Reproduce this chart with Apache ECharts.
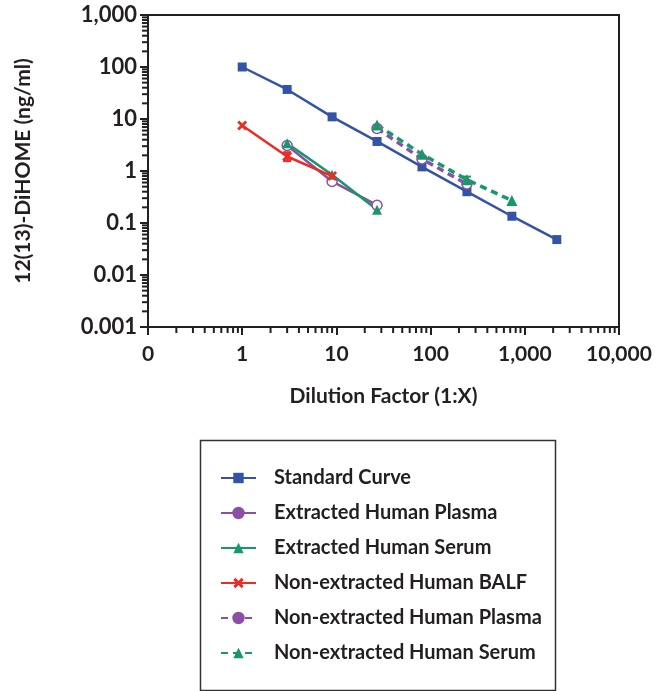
<!DOCTYPE html>
<html>
<head>
<meta charset="utf-8">
<script src="https://cdn.jsdelivr.net/npm/echarts@6/dist/echarts.min.js"></script>
<style>html,body{margin:0;padding:0;background:#fff}#c{width:655px;height:691px}</style>
</head>
<body>
<div id="c"></div>
<script>
// ---- data ----
const stdX = [1, 3, 9, 27, 81, 243, 729, 2187];
const stdY = [100, 37, 11, 3.7, 1.2, 0.4, 0.135, 0.048];
const exPlasmaX = [3, 9, 27];
const exPlasmaY = [3.1, 0.63, 0.22];
const exSerumX = [3, 9, 27];
const exSerumY = [3.4, 0.85, 0.18];
const balfX = [1, 3, 9];
const balfY = [7.5, 1.9, 0.8];
const nePlasmaX = [27, 81, 243];
const nePlasmaY = [6.6, 1.7, 0.56];
const neSerumX = [27, 81, 243, 729];
const neSerumY = [7.7, 2.1, 0.68, 0.27];
// error bars: x, low, high
const balfErrX = [3], balfErrLo = [1.55], balfErrHi = [2.3];
const neSerumErrX = [243], neSerumErrLo = [0.6], neSerumErrHi = [0.78];
const seriesNames = ['Standard Curve', 'Extracted Human Plasma', 'Extracted Human Serum',
  'Non-extracted Human BALF', 'Non-extracted Human Plasma', 'Non-extracted Human Serum'];
const xTickLabels = ['0', '1', '10', '100', '1,000', '10,000'];   // decades 0.1 .. 10000
const yTickLabels = ['0.001', '0.01', '0.1', '1', '10', '100', '1,000']; // decades 0.001 .. 1000

const BLUE = '#3353a6', PURPLE = '#8c4fa6', GREEN = '#17986b', RED = '#ee2a25', INK = '#231f20';
const FONT = 'Lato';
const X_MIN = 0.1, X_MAX = 10000, Y_MIN = 0.001, Y_MAX = 1000;
// minor tick values (2..9 within each decade)
const xMinor = [], yMinor = [];
for (let e = -1; e < 4; e++) for (let k = 2; k <= 9; k++) xMinor.push(+(k * Math.pow(10, e)).toPrecision(3));
for (let e = -3; e < 3; e++) for (let k = 2; k <= 9; k++) yMinor.push(+(k * Math.pow(10, e)).toPrecision(3));

const pairs = (xs, ys) => xs.map((x, i) => [x, ys[i]]);
const XPATH = 'path://M2,0 L5,3 L8,0 L10,2 L7,5 L10,8 L8,10 L5,7 L2,10 L0,8 L3,5 L0,2 Z';

const chart = echarts.init(document.getElementById('c'));
const lab = { color: INK, fontFamily: FONT, fontWeight: 'bold' };
chart.setOption({
  animation: false,
  grid: { left: 148, right: 36, top: 15, bottom: 364, show: true, borderColor: INK, borderWidth: 2 },
  xAxis: {
    type: 'log', logBase: 10, min: X_MIN, max: X_MAX, splitNumber: 5,
    axisLine: { show: true, onZero: false, lineStyle: { color: INK, width: 2 } },
    splitLine: { show: false },
    axisTick: { show: true, length: 8, lineStyle: { color: INK, width: 2 } },
    axisLabel: Object.assign({ margin: 17, fontSize: 21,
      formatter: v => xTickLabels[Math.round(Math.log10(v)) + 1] }, lab),
    name: 'Dilution Factor (1:X)', nameLocation: 'middle', nameGap: 59,
    nameTextStyle: Object.assign({ fontSize: 21 }, lab)
  },
  yAxis: {
    type: 'log', logBase: 10, min: Y_MIN, max: Y_MAX, splitNumber: 6,
    axisLine: { show: true, onZero: false, lineStyle: { color: INK, width: 2 } },
    splitLine: { show: false },
    axisTick: { show: true, length: 8, lineStyle: { color: INK, width: 2 } },
    axisLabel: Object.assign({ margin: 11, fontSize: 22,
      formatter: v => yTickLabels[Math.round(Math.log10(v)) + 3] }, lab),
    name: '12(13)-DiHOME (ng/ml)', nameLocation: 'middle', nameGap: 114, nameRotate: 90,
    nameTextStyle: Object.assign({ fontSize: 21 }, lab)
  },
  legend: {
    orient: 'vertical', left: 215, top: 463, itemWidth: 35, itemHeight: 13, itemGap: 15,
    textStyle: Object.assign({ fontSize: 20, lineHeight: 20, padding: [0, 0, 0, 13] }, lab),
    data: [
      { name: seriesNames[0] },
      { name: seriesNames[1], itemStyle: { color: PURPLE, borderColor: PURPLE } },
      { name: seriesNames[2] },
      { name: seriesNames[3] },
      { name: seriesNames[4], itemStyle: { color: PURPLE, borderColor: PURPLE } },
      { name: seriesNames[5] }
    ]
  },
  series: [
    { name: seriesNames[0], type: 'line', data: pairs(stdX, stdY), symbol: 'rect', symbolSize: 9,
      itemStyle: { color: BLUE }, lineStyle: { color: BLUE, width: 2.5 } },
    { name: seriesNames[1], type: 'line', data: pairs(exPlasmaX, exPlasmaY), symbol: 'circle', symbolSize: 10,
      itemStyle: { color: '#fff', borderColor: PURPLE, borderWidth: 1.5 }, lineStyle: { color: PURPLE, width: 2.5 } },
    { name: seriesNames[2], type: 'line', data: pairs(exSerumX, exSerumY), symbol: 'triangle', symbolSize: 10,
      itemStyle: { color: GREEN }, lineStyle: { color: GREEN, width: 2.5 } },
    { name: seriesNames[3], type: 'line', data: pairs(balfX, balfY), symbol: XPATH, symbolSize: 10,
      itemStyle: { color: RED }, lineStyle: { color: RED, width: 2.5 } },
    { name: seriesNames[4], type: 'line', data: pairs(nePlasmaX, nePlasmaY), symbol: 'circle', symbolSize: 10,
      itemStyle: { color: '#fff', borderColor: PURPLE, borderWidth: 1.5 }, lineStyle: { color: PURPLE, width: 3.5, type: [7, 5] } },
    { name: seriesNames[5], type: 'line', data: pairs(neSerumX, neSerumY), symbol: 'triangle', symbolSize: 11,
      itemStyle: { color: GREEN }, lineStyle: { color: GREEN, width: 3.5, type: [7, 5] } }
  ]
});

// decorations positioned through the chart's own scales
const px = (x, y) => chart.convertToPixel({ gridIndex: 0 }, [x, y]);
const g = [{ type: 'rect', left: 198, top: 438, shape: { width: 355, height: 250 },
  style: { fill: 'none', stroke: '#333', lineWidth: 1.5 }, silent: true }];
const tick = { stroke: INK, lineWidth: 2 };
xMinor.forEach(v => { const p = px(v, Y_MIN);
  g.push({ type: 'line', silent: true, z: 100, shape: { x1: p[0], y1: p[1], x2: p[0], y2: p[1] + 6 }, style: tick }); });
yMinor.forEach(v => { const p = px(X_MIN, v);
  g.push({ type: 'line', silent: true, z: 100, shape: { x1: p[0], y1: p[1], x2: p[0] - 6, y2: p[1] }, style: tick }); });
function addErr(xs, lo, hi, color) {
  xs.forEach((x, i) => {
    const a = px(x, lo[i]), b = px(x, hi[i]), c = 4, s = { stroke: color, lineWidth: 2 };
    g.push({ type: 'line', silent: true, z: 3, shape: { x1: a[0], y1: a[1], x2: b[0], y2: b[1] }, style: s });
    g.push({ type: 'line', silent: true, z: 3, shape: { x1: a[0] - c, y1: a[1], x2: a[0] + c, y2: a[1] }, style: s });
    g.push({ type: 'line', silent: true, z: 3, shape: { x1: b[0] - c, y1: b[1], x2: b[0] + c, y2: b[1] }, style: s });
  });
}
addErr(balfErrX, balfErrLo, balfErrHi, RED);
addErr(neSerumErrX, neSerumErrLo, neSerumErrHi, GREEN);
chart.setOption({ graphic: g });
</script>
</body>
</html>
